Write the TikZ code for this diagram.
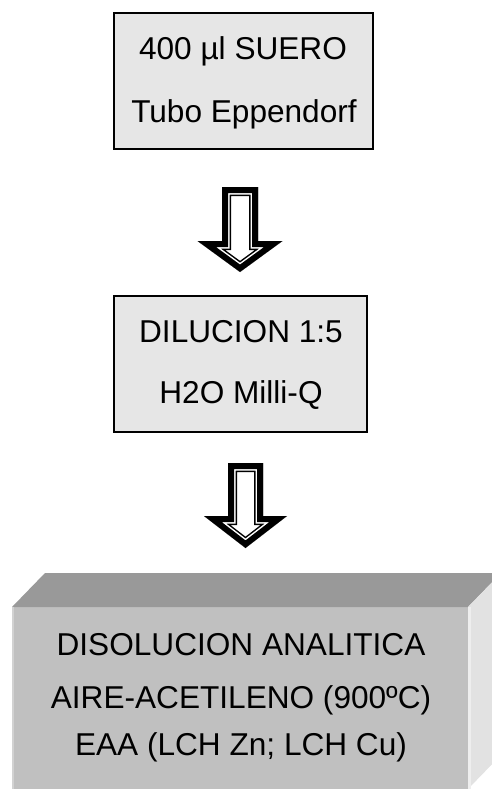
\documentclass[tikz,border=0pt]{standalone}
\usepackage{fontspec}
\setmainfont{Liberation Sans}
\definecolor{boxfill}{HTML}{E6E6E6}
\definecolor{frontgray}{HTML}{C0C0C0}
\definecolor{topgray}{HTML}{999999}
\definecolor{sidegray}{HTML}{E2E2E2}
\definecolor{edgelight}{HTML}{D2D2D2}
\definecolor{edgeside}{HTML}{EEEEEE}
\newcommand\hollowarrow[6]{%
\begin{scope}
\def\ap{(#1-#2,#3) -- (#1+#2,#3) -- (#1+#2,#4) -- (#1+#5,#4) -- (#1,#6) -- (#1-#5,#4) -- (#1-#2,#4) -- cycle}
\clip \ap;
\fill[white] \ap;
\draw[line join=miter, line width=18pt] \ap;
\draw[line join=miter, white, line width=15pt] \ap;
\draw[line join=miter, line width=12pt] \ap;
\end{scope}}
\begin{document}
\begin{tikzpicture}[x=1pt,y=-1pt,
  flatbox/.style={draw=black, line width=2pt, fill=boxfill, inner sep=0pt, outer sep=0pt},
  txt/.style={anchor=base, inner sep=0pt, font=\fontsize{31.6}{38}\selectfont}]
\useasboundingbox (0,0) rectangle (491,789);
% box 1
\node[flatbox, minimum width=259.5pt, minimum height=136pt] (box1) at (243.25,81) {};
\node[txt] (t1a) at (243,59.3) {400 µl SUERO};
\node[txt] (t1b) at (244,122.7) {Tubo Eppendorf};
% arrow 1
\hollowarrow{240}{18}{187}{241}{42.5}{272}
% box 2
\node[flatbox, minimum width=253pt, minimum height=136pt] (box2) at (240.5,364) {};
\node[txt] (t2a) at (241,342) {DILUCION 1:5};
\node[txt] (t2b) at (241,403) {H2O Milli-Q};
% arrow 2
\hollowarrow{245.5}{17.5}{463}{516}{41.5}{548}
% 3D box
\node[fill=frontgray, minimum width=456pt, minimum height=182pt, inner sep=0pt, outer sep=0pt] (box3) at (240,698) {};
\fill[topgray] (12,607) -- (45,573) -- (501,573) -- (468,607) -- cycle;
\fill[sidegray] (468,607) -- (501,573) -- (501,755) -- (468,789) -- cycle;
\fill[edgelight] (12,607) rectangle (14,789);
\fill[edgeside] (468,607) rectangle (470.5,789);
\node[txt] (t3a) at (241,655) {DISOLUCION ANALITICA};
\node[txt] (t3b) at (241,708) {AIRE-ACETILENO (900ºC)};
\node[txt] (t3c) at (241,755) {EAA (LCH Zn; LCH Cu)};
\end{tikzpicture}
\end{document}
